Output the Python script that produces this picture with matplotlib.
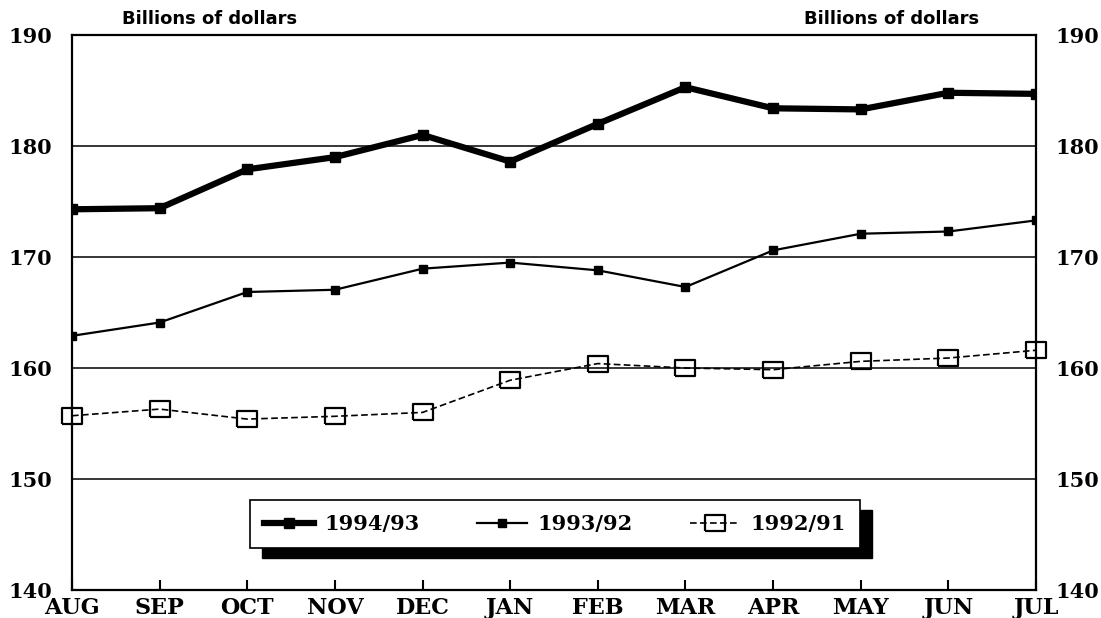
import matplotlib
matplotlib.use("Agg")
import matplotlib.pyplot as plt
from matplotlib.patches import Rectangle

months = ['AUG', 'SEP', 'OCT', 'NOV', 'DEC', 'JAN', 'FEB', 'MAR', 'APR', 'MAY', 'JUN', 'JUL']
y9493 = [174.3, 174.4, 177.9, 179.0, 181.0, 178.6, 182.0, 185.3, 183.4, 183.3, 184.8, 184.7]
y9392 = [162.9, 164.1, 166.85, 167.05, 168.95, 169.5, 168.8, 167.3, 170.6, 172.1, 172.3, 173.3]
y9291 = [155.7, 156.3, 155.4, 155.65, 156.0, 158.9, 160.4, 160.0, 159.85, 160.6, 160.9, 161.6]
labels = ['1994/93', '1993/92', '1992/91']
yticks = [140, 150, 160, 170, 180, 190]

serif = 'DejaVu Serif'
fig = plt.figure(figsize=(11.01, 6.18), dpi=100)
ax = fig.add_axes([0.0654, 0.0453, 0.8756, 0.898])

x = list(range(len(months)))

# wide open box marker for the oldest series
box = [(-1.3, -1), (1.3, -1), (1.3, 1), (-1.3, 1), (-1.3, -1)]

l1, = ax.plot(x, y9493, color='black', lw=4.5, marker='s', ms=6.5, zorder=4)
l2, = ax.plot(x, y9392, color='black', lw=1.6, marker='s', ms=6, zorder=4)
l3, = ax.plot(x, y9291, color='black', lw=1.2, ls=(0, (4, 2)), marker=box, ms=14.5,
              mfc='none', mec='black', mew=1.6, zorder=4, clip_on=False)

ax.set_xlim(0, len(months) - 1)
ax.set_ylim(140, 190)
ax.set_yticks(yticks)
ax.set_xticks(x)
ax.set_xticklabels(months)
for v in yticks[1:-1]:
    ax.axhline(v, color='black', lw=1.1, zorder=1)

for s in ax.spines.values():
    s.set_linewidth(1.6)

ax.tick_params(axis='x', direction='in', length=7, width=1.5, pad=5)
ax.tick_params(axis='y', length=0, labelright=True, pad=14)
for t in ax.get_xticklabels():
    t.set_fontfamily(serif)
    t.set_fontweight('bold')
    t.set_fontsize(16)
for t in ax.get_yticklabels():
    t.set_fontfamily(serif)
    t.set_fontweight('bold')
    t.set_fontsize(15)

fig.text(0.19, 0.969, 'Billions of dollars', ha='center', va='center',
         fontsize=13, fontweight='bold', family='DejaVu Sans')
fig.text(0.81, 0.969, 'Billions of dollars', ha='center', va='center',
         fontsize=13, fontweight='bold', family='DejaVu Sans')

leg = ax.legend([l1, l2, l3], labels, loc='center', ncol=3, mode='expand',
                bbox_to_anchor=(0.185, 0.0757, 0.632, 0.0865), borderaxespad=0,
                prop={'family': serif, 'weight': 'bold', 'size': 15},
                fancybox=False, framealpha=1, edgecolor='black',
                handlelength=2.4, handletextpad=0.5, borderpad=0.65)
leg.get_frame().set_linewidth(1.2)
leg.set_zorder(6)

# drop shadow behind the legend box
fig.canvas.draw()
bb = leg.get_frame().get_window_extent()
inv = ax.transAxes.inverted()
(x0, y0), (x1, y1) = inv.transform([(bb.x0 + 12, bb.y0 - 10), (bb.x1 + 12, bb.y1 - 10)])
ax.add_patch(Rectangle((x0, y0), x1 - x0, y1 - y0, transform=ax.transAxes,
                       facecolor='black', edgecolor='black', zorder=5, clip_on=False))

fig.savefig('out.png', dpi=100)
